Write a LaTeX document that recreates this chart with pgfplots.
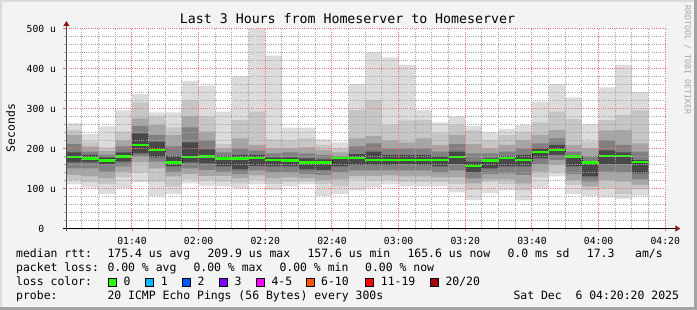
\documentclass[border=0pt]{standalone}
\usepackage{fontspec}
\setmainfont{DejaVu Sans Mono}
\setmonofont{DejaVu Sans Mono}
\usepackage{pgfplots}
\pgfplotsset{compat=1.18}
\usepackage{pgfplotstable}
\usetikzlibrary{arrows.meta}

\definecolor{bg}{HTML}{F3F3F3}
\definecolor{sA}{HTML}{DCDCDC}
\definecolor{sB}{HTML}{C6C6C6}
\definecolor{sC}{HTML}{A6A6A6}
\definecolor{sD}{HTML}{808080}
\definecolor{sE}{HTML}{484848}
\definecolor{majgrid}{HTML}{EE7070}
\definecolor{mingrid}{HTML}{A4A4A4}
\definecolor{arrowred}{HTML}{8B1A1A}
\definecolor{med}{HTML}{26FF00}
\definecolor{lcA}{HTML}{26FF00}
\definecolor{lcB}{HTML}{00B8FF}
\definecolor{lcC}{HTML}{0059FF}
\definecolor{lcD}{HTML}{7E00FF}
\definecolor{lcE}{HTML}{FF00FF}
\definecolor{lcF}{HTML}{FF5500}
\definecolor{lcG}{HTML}{FF0000}
\definecolor{lcH}{HTML}{A10000}

\pgfplotstableread{
x   max h2  h3  h4  h5  l5  l4  l3  l2  mn  med
80  263 246 234 211 190 165 150 134 121 110 179.5
85  236 217 205 192 184 165 150 130 115 102 175
90  255 203 194 184 178 161 142 125 111 86  170
95  295 242 220 205 190 167 155 142 128 100 180
100 336 315 275 256 238 188 180 165 140 115 209.5
105 290 280 259 234 217 178 167 150 117 81  196
110 290 253 234 205 181 155 142 130 105 86  165
115 369 321 281 253 215 165 150 136 123 113 178
120 357 280 242 221 198 163 146 131 120 107 180
125 292 211 200 190 181 155 142 131 117 105 175
130 380 271 225 200 184 148 136 125 113 100 175
135 500 292 209 195 184 156 145 133 121 110 176
140 432 223 200 188 178 155 140 125 111 96  171
145 252 221 200 190 178 155 140 128 116 105 170
150 252 225 203 188 175 148 136 125 117 110 165
155 223 209 196 184 173 146 134 121 111 81  165
160 215 200 190 181 178 155 140 123 105 86  176
165 361 296 225 205 186 159 145 131 123 95  176
170 440 321 231 213 192 159 145 131 120 102 171
175 428 259 220 200 184 159 145 133 121 110 171
180 409 270 215 200 184 161 145 130 116 105 171
185 295 271 225 200 184 159 145 130 116 105 171
190 265 238 209 192 180 155 140 128 116 105 171
195 280 259 234 211 192 161 145 128 111 90  178
200 256 245 211 188 167 140 125 113 96  71  156
205 240 221 200 188 175 150 136 123 116 88  170
210 249 234 209 192 181 155 138 123 111 95  176
215 259 242 221 200 184 155 134 113 95  70  171
220 317 265 234 213 200 175 161 142 128 100 191
225 361 292 246 225 209 184 171 159 140 130 197
230 328 274 209 192 181 155 136 121 109 86  180
235 261 217 200 180 167 130 117 105 96  80  165
240 353 271 245 221 195 161 142 121 100 78  181
245 409 284 246 209 190 161 140 117 86  74  181
250 340 295 213 192 171 138 123 109 98  82  166
255 340 295 213 192 171 138 123 109 98  82  166
}\smoke

\newcommand{\lgfont}{\fontsize{11.45}{12}\selectfont}

\begin{document}
\begin{tikzpicture}
\begin{scope}[x=1pt,y=1pt]
\fill[bg] (0,0) rectangle (697,310);
\useasboundingbox (0,0) rectangle (697,310);
\draw[line width=2pt, color=black!14] (1,0) -- (1,309) -- (697,309);
\draw[line width=3pt, color=black!36] (0,1.5) -- (695.5,1.5) -- (695.5,310);
\end{scope}

\begin{axis}[
  at={(66.4pt,81.5pt)}, anchor=south west,
  scale only axis, width=600pt, height=200pt,
  xmin=80.3333, xmax=260.3333, ymin=0, ymax=500,
  axis lines=left,
  axis on top,
  axis background/.style={fill=white},
  clip=true,
  /pgf/number format/assume math mode=true,
  x axis line style={draw=black, line width=0.9pt, -{Triangle[length=5pt,width=6pt,color=arrowred]}, shorten >=-14pt, shorten <=-3.5pt},
  y axis line style={draw=black!70, line width=0.9pt, -{Triangle[length=5pt,width=6pt,color=arrowred]}, shorten >=-7.5pt, shorten <=-2.5pt},
  xtick={100,120,140,160,180,200,220,240,260},
  xticklabels={01:40,02:00,02:20,02:40,03:00,03:20,03:40,04:00,04:20},
  minor xtick={85,90,95,105,110,115,125,130,135,145,150,155,165,170,175,185,190,195,205,210,215,225,230,235,245,250,255},
  ytick={0,100,200,300,400,500},
  yticklabels={0\phantom{~u},100~u,200~u,300~u,400~u,500~u},
  minor ytick={20,40,60,80,120,140,160,180,220,240,260,280,320,340,360,380,420,440,460,480},
  grid=both,
  major grid style={draw=majgrid, line width=1pt, dash pattern=on 1pt off 1.2pt},
  minor grid style={draw=mingrid, line width=1pt, dash pattern=on 1pt off 1.2pt},
  tick align=outside,
  major tick length=3pt, minor tick length=2pt,
  major tick style={draw=red!60, line width=0.9pt},
  minor tick style={draw=black!35, line width=0.9pt},
  tick label style={font=\fontsize{9.75}{10}\selectfont, text=black},
  xticklabel style={anchor=base, inner sep=0pt, yshift=-12.8pt},
  yticklabel style={anchor=east, inner sep=0pt, xshift=-7.1pt},
]
\addplot[ybar interval, fill=sA, draw=none] table[x=x, y=max] {\smoke};
\addplot[ybar interval, fill=sB, draw=none] table[x=x, y=h2] {\smoke};
\addplot[ybar interval, fill=sC, draw=none] table[x=x, y=h3] {\smoke};
\addplot[ybar interval, fill=sD, draw=none] table[x=x, y=h4] {\smoke};
\addplot[ybar interval, fill=sE, draw=none] table[x=x, y=h5] {\smoke};
\addplot[ybar interval, fill=sD, draw=none] table[x=x, y=l5] {\smoke};
\addplot[ybar interval, fill=sC, draw=none] table[x=x, y=l4] {\smoke};
\addplot[ybar interval, fill=sB, draw=none] table[x=x, y=l3] {\smoke};
\addplot[ybar interval, fill=sA, draw=none] table[x=x, y=l2] {\smoke};
\addplot[ybar interval, fill=white, draw=none] table[x=x, y=mn] {\smoke};
\addplot[const plot mark left, draw=black, line width=0.7pt, dash pattern=on 1pt off 1pt, mark=none] table[x=x, y=med] {\smoke};
\addplot[jump mark left, draw=med, line width=2.3pt, mark=none] table[x=x, y=med] {\smoke};
\end{axis}

\begin{scope}[x=1pt,y=1pt]
% title and labels
\node[anchor=base, font=\fontsize{13.25}{14}\selectfont, inner sep=0pt] at (347.5,286) {Last 3 Hours from Homeserver to Homeserver};
\node[rotate=90, font=\fontsize{11.4}{12}\selectfont, inner sep=0pt] at (10.5,182) {Seconds};
\node[rotate=-90, font=\fontsize{8.3}{9}\selectfont, text=black!35, inner sep=0pt] at (687.5,250) {RRDTOOL / TOBI OETIKER};

\begin{scope}[every node/.style={anchor=base west, inner sep=0pt, font=\lgfont}]
% row 1
\node at (16,52.2) {median rtt:};
\node at (107.3,52.2) {175.4 us avg};
\node at (207.3,52.2) {209.9 us max};
\node at (307.3,52.2) {157.6 us min};
\node at (407.3,52.2) {165.6 us now};
\node at (507.3,52.2) {0.0 ms sd};
\node at (586.7,52.2) {17.3};
\node at (635,52.2) {am/s};
% row 2
\node at (16,38.2) {packet loss:};
\node at (107.3,38.2) {0.00 \% avg};
\node at (193.3,38.2) {0.00 \% max};
\node at (279.3,38.2) {0.00 \% min};
\node at (365,38.2) {0.00 \% now};
% row 3
\node at (16,24.2) {loss color:};
\node at (123.3,24.2) {0};
\node at (160.7,24.2) {1};
\node at (197.3,24.2) {2};
\node at (234.3,24.2) {3};
\node at (271.3,24.2) {4-5};
\node at (321,24.2) {6-10};
\node at (380.7,24.2) {11-19};
\node at (445.3,24.2) {20/20};
% row 4
\node at (16,10.2) {probe:};
\node at (107.3,10.2) {20 ICMP Echo Pings (56 Bytes) every 300s};
\node at (513.3,10.2) {Sat Dec~ 6 04:20:20 2025};
\end{scope}
\foreach \bx/\col in {108.7/lcA,145.7/lcB,182.7/lcC,219.7/lcD,256.7/lcE,306.7/lcF,365.7/lcG,430.3/lcH}{
  \filldraw[fill=\col, draw=black, line width=0.8pt] (\bx,23.6) rectangle ++(8,8);
}
\end{scope}
\end{tikzpicture}
\end{document}
